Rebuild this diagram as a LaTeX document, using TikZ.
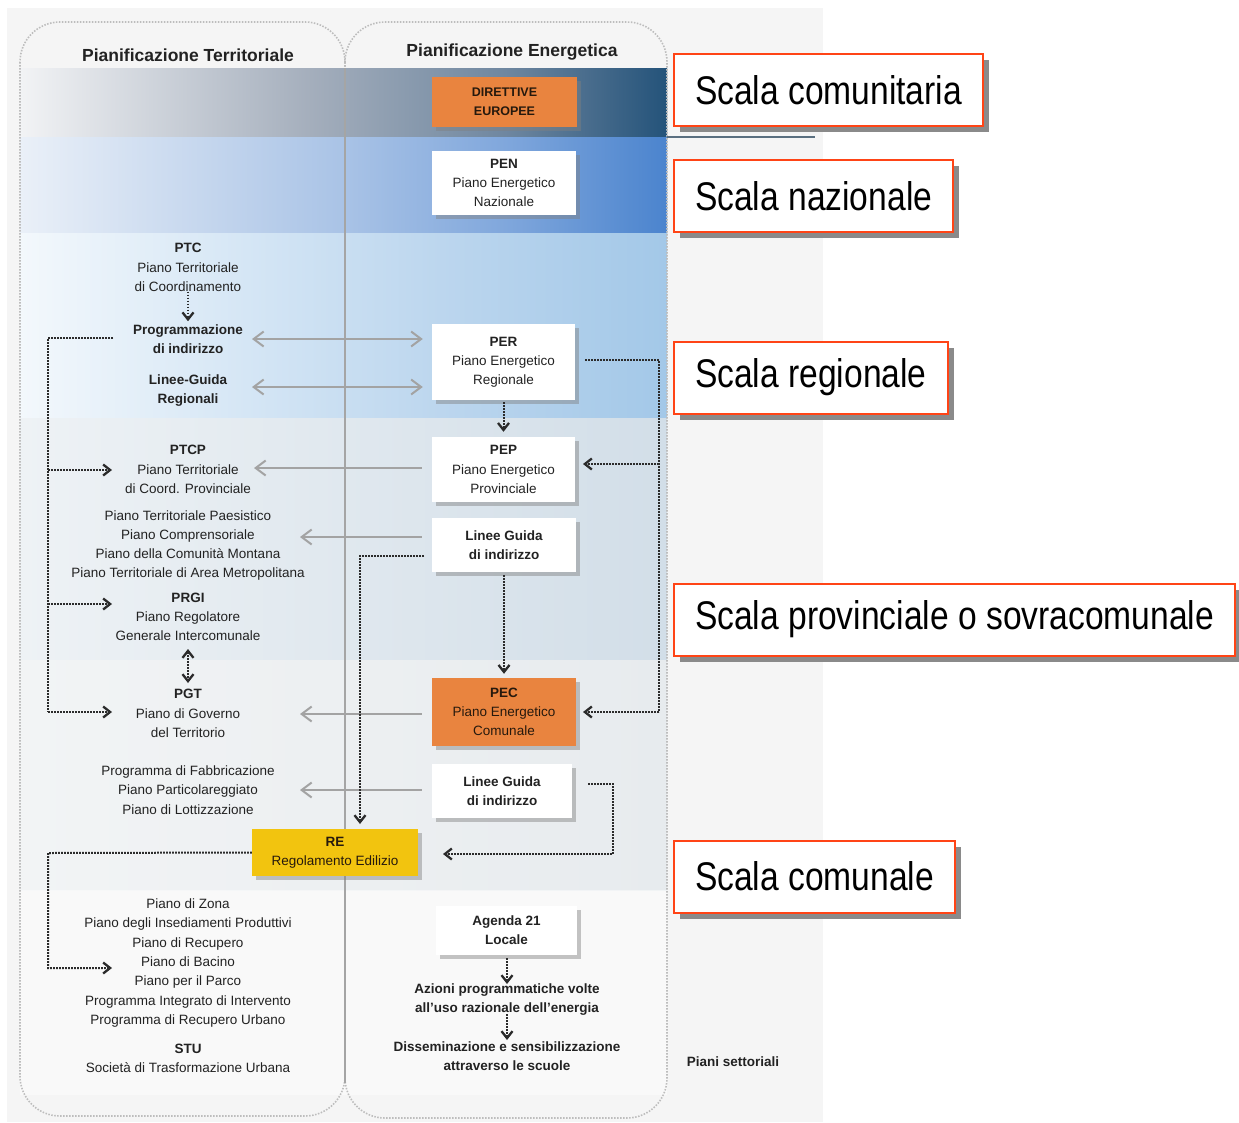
\documentclass[tikz,border=0pt]{standalone}
\usepackage{fontspec}
\setmainfont{Liberation Sans}
\newfontfamily\narrowfont[FakeStretch=0.84]{Liberation Sans}
\usetikzlibrary{arrows.meta,shadows,calc}

\definecolor{panel}{HTML}{F5F5F5}
\definecolor{eorange}{HTML}{E9843F}
\definecolor{eyellow}{HTML}{F2C40F}
\definecolor{sred}{HTML}{FF4416}
\definecolor{sshadow}{HTML}{8A8A8A}
\definecolor{garc}{HTML}{A3A3A3}
\definecolor{dotc}{HTML}{2B2B2B}
\definecolor{colline}{HTML}{BDBDBD}
\definecolor{midc}{HTML}{A5A5A5}
\definecolor{txtc}{HTML}{222222}
\definecolor{sepc}{HTML}{5A6F80}

\definecolor{cA0}{HTML}{F2F3F5}
\definecolor{cA1}{HTML}{A4AEBC}
\definecolor{cA2}{HTML}{6F87A0}
\definecolor{cA3}{HTML}{24537A}
\definecolor{cB0}{HTML}{EAF0F8}
\definecolor{cB1}{HTML}{A9C3E6}
\definecolor{cB2}{HTML}{80A7DC}
\definecolor{cB3}{HTML}{4B84CE}
\definecolor{cC0}{HTML}{F3F8FC}
\definecolor{cC1}{HTML}{D5E6F5}
\definecolor{cC2}{HTML}{BCD6EE}
\definecolor{cC3}{HTML}{A3C8E8}
\definecolor{cD0}{HTML}{EEF2F5}
\definecolor{cD1}{HTML}{D2DEE8}
\definecolor{cE0}{HTML}{F2F4F5}
\definecolor{cE1}{HTML}{E7EBEE}

% TikZ maps the path extent onto 25bp..75bp of a 100bp shading
\pgfdeclarehorizontalshading{bandA}{100bp}{color(0bp)=(cA0); color(25bp)=(cA0); color(47.5bp)=(cA1); color(62.5bp)=(cA2); color(75bp)=(cA3); color(100bp)=(cA3)}
\pgfdeclarehorizontalshading{bandB}{100bp}{color(0bp)=(cB0); color(25bp)=(cB0); color(50bp)=(cB1); color(62.5bp)=(cB2); color(75bp)=(cB3); color(100bp)=(cB3)}
\pgfdeclarehorizontalshading{bandC}{100bp}{color(0bp)=(cC0); color(25bp)=(cC0); color(42.5bp)=(cC1); color(57.5bp)=(cC2); color(75bp)=(cC3); color(100bp)=(cC3)}
\pgfdeclarehorizontalshading{bandD}{100bp}{color(0bp)=(cD0); color(25bp)=(cD0); color(75bp)=(cD1); color(100bp)=(cD1)}
\pgfdeclarehorizontalshading{bandE}{100bp}{color(0bp)=(cE0); color(25bp)=(cE0); color(75bp)=(cE1); color(100bp)=(cE1)}

\tikzset{
  txt/.style={font=\fontsize{13.5}{19.2}\selectfont, align=center, inner sep=0pt, text=txtc},
  btxt/.style={txt, font=\fontsize{13.5}{19.2}\selectfont\bfseries},
  hdr/.style={font=\fontsize{17.5}{20}\selectfont\bfseries, inner sep=0pt, text=txtc},
  ebox/.style={fill=white, inner sep=0pt, align=center, text=txtc,
     font=\fontsize{13.5}{19.2}\selectfont,
     drop shadow={shadow xshift=4pt, shadow yshift=-4pt, fill=black!50, opacity=0.45}},
  obox/.style={ebox, fill=eorange, text=black!80!brown},
  ybox/.style={ebox, fill=eyellow, text=black!80!brown},
  scalebox/.style={draw=sred, line width=2pt, fill=white, anchor=west,
     font=\narrowfont\fontsize{40}{48}\selectfont, text=black,
     inner xsep=21pt, inner ysep=0pt, minimum height=72pt,
     drop shadow={shadow xshift=6pt, shadow yshift=-6pt, fill=sshadow, opacity=1}},
  colout/.style={draw=colline, line width=1.6pt, dash pattern=on 1.5pt off 1.5pt},
  dl/.style={draw=dotc, line width=2pt, dash pattern=on 1.6pt off 1.4pt},
  dtip/.tip={Straight Barb[length=7pt,width=11pt,line width=2.3pt]},
  gtip/.tip={Straight Barb[length=10pt,width=15pt]},
  darr/.style={dl, -dtip},
  ddarr/.style={dl, dtip-dtip},
  ga/.style={draw=garc, line width=2pt, -gtip},
  gaa/.style={draw=garc, line width=2pt, gtip-gtip},
}

\begin{document}
\begin{tikzpicture}[x=1pt,y=-1pt]
\useasboundingbox (0,0) rectangle (1239,1122);
\fill[white] (0,0) rectangle (1239,1122);
\fill[panel] (7,8) rectangle (823,1122);

% bands
\shade[shading=bandA] (20,68) rectangle (667,137);
\shade[shading=bandB] (20,137) rectangle (667,233);
\shade[shading=bandC] (20,233) rectangle (667,418);
\shade[shading=bandD] (20,418) rectangle (667,660);
\shade[shading=bandE] (20,660) rectangle (667,890);
\fill[white,opacity=0.45] (20,890) rectangle (667,1095);

% columns
\draw[colout, rounded corners=40pt] (20,22) rectangle (345,1116);
\draw[colout, rounded corners=40pt] (345,22) rectangle (667,1118);
\draw[midc, line width=1.2pt] (345,68) -- (345,1083);

% separator line
\coordinate (sepA) at (667,137);
\coordinate (sepB) at (815,137);
\draw[sepc, line width=1.5pt] (sepA) -- (sepB);

% headers
\node[hdr] (hT) at (188,55) {Pianificazione Territoriale};
\node[hdr] (hE) at (512,52) {Pianificazione Energetica};

% energy column boxes
\node[obox, minimum width=145pt, minimum height=50pt, font=\fontsize{12.5}{19}\selectfont\bfseries] (DIR) at (504.5,102) {DIRETTIVE\\EUROPEE};
\node[ebox, minimum width=144pt, minimum height=64pt] (PEN) at (504,183) {\textbf{PEN}\\Piano Energetico\\Nazionale};
\node[ebox, minimum width=143pt, minimum height=76pt] (PER) at (503.5,362) {\textbf{PER}\\Piano Energetico\\Regionale};
\node[ebox, minimum width=143pt, minimum height=65pt] (PEP) at (503.5,469.5) {\textbf{PEP}\\Piano Energetico\\Provinciale};
\node[ebox, minimum width=144pt, minimum height=54pt, font=\fontsize{13.5}{19.2}\selectfont\bfseries] (LG1) at (504,545) {Linee Guida\\di indirizzo};
\node[obox, minimum width=144pt, minimum height=68pt] (PEC) at (504,712) {\textbf{PEC}\\Piano Energetico\\Comunale};
\node[ebox, minimum width=140pt, minimum height=54pt, font=\fontsize{13.5}{19.2}\selectfont\bfseries] (LG2) at (502,791) {Linee Guida\\di indirizzo};
\node[ybox, minimum width=166pt, minimum height=47pt] (RE) at (335,852.5) {\textbf{RE}\\Regolamento Edilizio};
\node[ebox, minimum width=141pt, minimum height=49pt, font=\fontsize{13.5}{19.2}\selectfont\bfseries] (AG) at (506.5,930.5) {Agenda 21\\Locale};
\node[btxt] (AZ) at (507,999.5) {Azioni programmatiche volte\\all'uso razionale dell'energia};
\node[btxt] (DS) at (507,1056.5) {Disseminazione e sensibilizzazione\\attraverso le scuole};
\node[btxt] (PS) at (733,1062) {Piani settoriali};

% territorial column texts
\node[txt] (PTC) at (188,267.5) {\textbf{PTC}\\Piano Territoriale\\di Coordinamento};
\node[btxt] (Prog) at (188,339) {Programmazione\\di indirizzo};
\node[btxt] (LGR) at (188,390.5) {Linee-Guida\\Regionali};
\node[txt] (PTCP) at (188,469.5) {\textbf{PTCP}\\Piano Territoriale\\di Coord. Provinciale};
\node[txt] (G4) at (188,545.5) {Piano Territoriale Paesistico\\Piano Comprensoriale\\Piano della Comunità Montana\\Piano Territoriale di Area Metropolitana};
\node[txt] (PRGI) at (188,617) {\textbf{PRGI}\\Piano Regolatore\\Generale Intercomunale};
\node[txt] (PGT) at (188,713.5) {\textbf{PGT}\\Piano di Governo\\del Territorio};
\node[txt] (PF) at (188,790) {Programma di Fabbricazione\\Piano Particolareggiato\\Piano di Lottizzazione};
\node[txt, font=\fontsize{13.5}{19.35}\selectfont] (PZ) at (188,963) {Piano di Zona\\Piano degli Insediamenti Produttivi\\Piano di Recupero\\Piano di Bacino\\Piano per il Parco\\Programma Integrato di Intervento\\Programma di Recupero Urbano};
\node[txt] (STU) at (188,1058.5) {\textbf{STU}\\Società di Trasformazione Urbana};

% scale labels
\node[scalebox] (S1) at (673,90) {Scala comunitaria};
\node[scalebox] (S2) at (673,196) {Scala nazionale};
\node[scalebox] (S3) at (673,377.5) {Scala regionale};
\node[scalebox] (S4) at (673,619.5) {Scala provinciale o sovracomunale};
\node[scalebox] (S5) at (673,876.5) {Scala comunale};

% gray arrows
\coordinate (a1) at (252,339);
\coordinate (a2) at (252,387);
\coordinate (a3) at (254,468);
\coordinate (a4) at (300,537);
\coordinate (a5) at (300,714);
\coordinate (a6) at (300,790);
\draw[gaa, shorten >=9pt] (a1) -- (a1 -| PER.west);
\draw[gaa, shorten >=9pt] (a2) -- (a2 -| PER.west);
\draw[ga, shorten <=10pt] (a3 -| PEP.west) -- (a3);
\draw[ga, shorten <=10pt] (a4 -| LG1.west) -- (a4);
\draw[ga, shorten <=10pt] (a5 -| PEC.west) -- (a5);
\draw[ga, shorten <=10pt] (a6 -| LG2.west) -- (a6);

% dotted: left loop
\coordinate (L0) at (113,338);
\coordinate (Lt) at (48,338);
\coordinate (Lb) at (48,712);
\coordinate (t1) at (112,470);
\coordinate (t2) at (112,604);
\coordinate (t3) at (112,712);
\draw[dl] (L0) -- (Lt) -- (Lb);
\draw[darr] (Lt |- t1) -- (t1);
\draw[darr] (Lt |- t2) -- (t2);
\draw[darr] (Lb) -- (t3);

% dotted: PTC -> Prog, PRGI <-> PGT
\draw[darr, shorten >=3pt] (PTC.south) -- (Prog.north);
\coordinate (pg1) at (188,649);
\coordinate (pg2) at (188,683);
\draw[ddarr] (pg1) -- (pg2);

% dotted: right loop
\coordinate (R0) at (585,360);
\coordinate (Rt) at (659,360);
\coordinate (Rb) at (659,712);
\coordinate (r1) at (583,464);
\coordinate (r2) at (583,712);
\draw[dl] (R0) -- (Rt) -- (Rb);
\draw[darr] (Rt |- r1) -- (r1);
\draw[darr] (Rb) -- (r2);

% dotted: vertical energy chain
\draw[darr, shorten <=2pt, shorten >=5pt] (PER.south) -- (PEP.north);
\draw[darr, shorten <=3pt, shorten >=4pt] (LG1.south) -- (PEC.north);

% dotted: LG1 -> RE
\coordinate (q0) at (424,556);
\coordinate (q1) at (360,556);
\coordinate (q2) at (360,824);
\draw[darr] (q0) -- (q1) -- (q2);

% dotted: LG2 -> RE
\coordinate (w0) at (588,784);
\coordinate (w1) at (613,784);
\coordinate (w2) at (613,854);
\coordinate (w3) at (443,854);
\draw[darr] (w0) -- (w1) -- (w2) -- (w3);

% dotted: RE -> Piano di Bacino
\coordinate (e1) at (48,853);
\coordinate (e2) at (48,968);
\coordinate (e3) at (112,968);
\draw[darr] (RE.west) -- (e1) -- (e2) -- (e3);

% dotted: Agenda chain
\coordinate (g1) at (507,958);
\coordinate (g2) at (507,984);
\coordinate (g3) at (507,1014);
\coordinate (g4) at (507,1040);
\draw[darr] (g1) -- (g2);
\draw[darr] (g3) -- (g4);
\end{tikzpicture}
\end{document}
